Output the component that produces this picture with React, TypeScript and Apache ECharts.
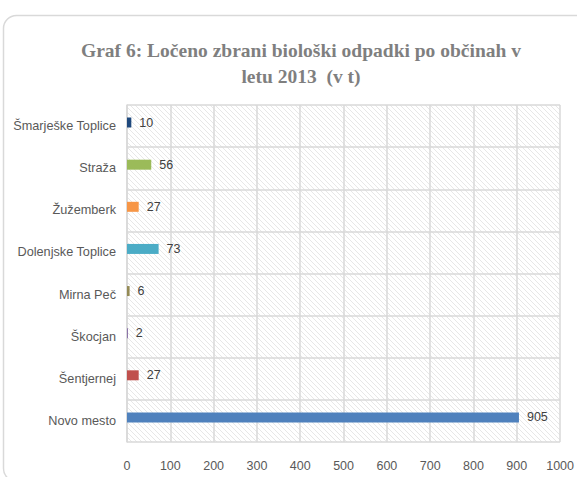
import React, { useEffect, useRef } from "react";
import * as echarts from "echarts";

const categories = [
  "Novo mesto",
  "Šentjernej",
  "Škocjan",
  "Mirna Peč",
  "Dolenjske Toplice",
  "Žužemberk",
  "Straža",
  "Šmarješke Toplice",
];
const values = [905, 27, 2, 6, 73, 27, 56, 10];
const colors = ["#4F81BD", "#C0504D", "#8064A2", "#948A54", "#4BACC6", "#F79646", "#9BBB59", "#1F497D"];
const xTicks = [0, 100, 200, 300, 400, 500, 600, 700, 800, 900, 1000];

const hatchSvg =
  "data:image/svg+xml;charset=utf-8," +
  encodeURIComponent(
    '<svg xmlns="http://www.w3.org/2000/svg" width="5" height="5">' +
      '<rect width="5" height="5" fill="#ffffff"/>' +
      '<path d="M-1,-1 L6,6 M-1,4 L1,6 M4,-1 L6,1" stroke="#e4e4e4" stroke-width="0.9"/>' +
      "</svg>"
  );

export default function App() {
  const ref = useRef<HTMLDivElement>(null);
  useEffect(() => {
    if (!ref.current) return;
    const chart = echarts.init(ref.current, null, { renderer: "svg" });
    const fontFamily = "'Liberation Sans', Arial, sans-serif";
    chart.setOption({
      animation: false,
      backgroundColor: "#ffffff",
      title: {
        text: "Graf 6: Ločeno zbrani biološki odpadki po občinah v\nletu 2013  (v t)",
        left: 296,
        textAlign: "center",
        top: 32,
        textStyle: {
          fontFamily: "'Liberation Serif', 'DejaVu Serif', serif",
          fontWeight: "bold",
          fontSize: 19.5,
          color: "#7f7f7f",
          lineHeight: 26,
        },
      },
      graphic: [
        {
          type: "rect",
          shape: { x: 3.5, y: 15.5, width: 700, height: 466, r: 13 },
          style: { fill: "none", stroke: "#d9d9d9", lineWidth: 1.5 },
          silent: true,
        },
      ],
      grid: {
        left: 127,
        right: 15,
        top: 105,
        bottom: 35,
        show: true,
        backgroundColor: { image: hatchSvg, repeat: "repeat" },
        borderWidth: 0,
      },
      xAxis: {
        type: "value",
        min: 0,
        max: 1000,
        interval: 100,
        axisLine: { show: false },
        axisTick: { show: false },
        axisLabel: {
          color: "#595959",
          fontSize: 12.5,
          fontFamily,
          margin: 17,
          formatter: (v: number) => (xTicks.includes(v) ? String(v) : ""),
        },
        splitLine: { show: true, lineStyle: { color: "#d9d9d9", width: 1.5 } },
      },
      yAxis: {
        type: "category",
        data: categories,
        axisLine: { show: true, lineStyle: { color: "#d9d9d9", width: 1.5 } },
        axisTick: { show: false },
        axisLabel: { color: "#595959", fontSize: 12.7, fontFamily, margin: 11 },
        splitLine: { show: true, lineStyle: { color: "#d9d9d9", width: 1.5 } },
      },
      series: [
        {
          type: "bar",
          data: values.map((v, i) => ({ value: v, itemStyle: { color: colors[i] } })),
          barWidth: 10,
          barGap: "0%",
          label: {
            show: true,
            position: "right",
            distance: 8,
            color: "#404040",
            fontSize: 12.5,
            fontFamily,
          },
        },
        {
          type: "bar",
          data: values.map(() => null),
          barWidth: 7,
          barGap: "0%",
          silent: true,
        },
      ],
    });
    return () => chart.dispose();
  }, []);
  return (
    <div
      ref={ref}
      style={{ position: "fixed", left: 0, top: 0, width: 577, height: 477 }}
    />
  );
}
